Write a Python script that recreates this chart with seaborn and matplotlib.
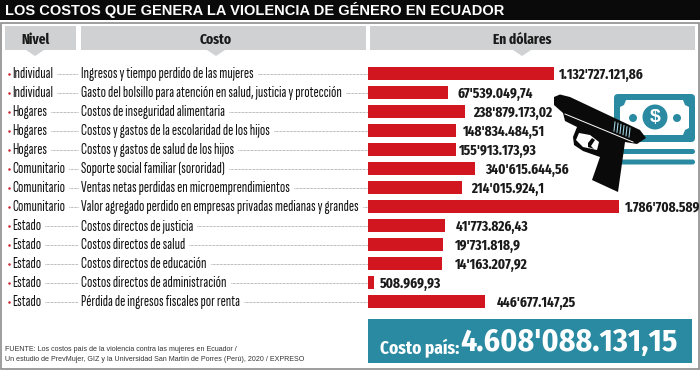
import matplotlib
matplotlib.use("Agg")
import matplotlib.pyplot as plt
from matplotlib.patches import Polygon, Rectangle, FancyBboxPatch, Circle
import pandas as pd
import seaborn as sns

niveles = ["Individual", "Individual", "Hogares", "Hogares", "Hogares", "Comunitario", "Comunitario",
           "Comunitario", "Estado", "Estado", "Estado", "Estado", "Estado"]
costos = ["Ingresos y tiempo perdido de las mujeres",
          "Gasto del bolsillo para atención en salud, justicia y protección",
          "Costos de inseguridad alimentaria",
          "Costos y gastos de la escolaridad de los hijos",
          "Costos y gastos de salud de los hijos",
          "Soporte social familiar (sororidad)",
          "Ventas netas perdidas en microemprendimientos",
          "Valor agregado perdido en empresas privadas medianas y grandes",
          "Costos directos de justicia",
          "Costos directos de salud",
          "Costos directos de educación",
          "Costos directos de administración",
          "Pérdida de ingresos fiscales por renta"]
valores = ["1.132'727.121,86", "67'539.049,74", "238'879.173,02", "148'834.484,51", "155'913.173,93",
           "340'615.644,56", "214'015.924,1", "1.786'708.589", "41'773.826,43", "19'731.818,9",
           "14'163.207,92", "508.969,93", "446'677.147,25"]
# drawn bar lengths (the original bars are not to scale)
longitud = [185.4, 79.4, 96.4, 87.4, 88, 106.7, 94, 250.7, 76.7, 74.7, 73.7, 5.7, 117]
separacion = [5.6, 10.3, 8.3, 7, 2.5, 10, 9, 6, 11, 12, 12.5, 6, 11.7]

NARROW = ["Fira Sans Extra Condensed", "DejaVu Sans"]
REG = ["Sofia Sans Extra Condensed", "Fira Sans Extra Condensed", "DejaVu Sans"]
COND = ["Fira Sans Condensed", "DejaVu Sans"]
W, H = 700, 370
fig = plt.figure(figsize=(7, 3.7), dpi=100, facecolor="white")

bg = fig.add_axes([0, 0, 1, 1])
bg.set_xlim(0, W)
bg.set_ylim(H, 0)
bg.axis("off")

bg.add_patch(Rectangle((1, 23), 698, 346, fc="white", ec="#8c8c8c", lw=1.2))
bg.add_patch(Rectangle((0, 0), W, 20, fc="#0a0a0a", ec="none"))
bg.text(5, 10.5, "LOS COSTOS QUE GENERA LA VIOLENCIA DE GÉNERO EN ECUADOR", color="white",
        family="Liberation Sans", weight="bold", fontsize=10.5, va="center", ha="left")

GREY = "#cfd1d2"
for x0, x1, tx, lab in [(5, 76, 35, "Nivel"), (81, 366, 216, "Costo"), (370, 695, 522, "En dólares")]:
    bg.add_patch(Rectangle((x0, 26), x1 - x0, 24, fc=GREY, ec="none"))
    bg.add_patch(Polygon([(tx - 9, 50), (tx + 9, 50), (tx, 56)], fc=GREY, ec="none"))
    bg.text(tx, 40, lab, family=NARROW, weight="bold", fontsize=10.5, color="#1a1a1a", ha="center", va="center")

# table text and leader lines
r = fig.canvas.get_renderer()
for i, (n, c) in enumerate(zip(niveles, costos)):
    y = 73.7 + 19 * i
    bg.plot([8.5], [y + 0.5], marker="o", ms=1.8, color="#c8202d", mec="none")
    t1 = bg.text(12.5, y, n, family=REG, fontsize=11.2, color="#111111", va="center", ha="left")
    t2 = bg.text(81, y, c, family=REG, fontsize=11.2, color="#111111", va="center", ha="left")
    e1 = t1.get_window_extent(r).x1 + 3
    e2 = t2.get_window_extent(r).x1 + 4
    bg.plot([e1, 78], [y, y], color="#777777", lw=0.5, ls=(0, (1, 1)))
    if e2 < 367:
        bg.plot([e2, 368], [y, y], color="#777777", lw=0.5, ls=(0, (1, 1)))

# bars
df = pd.DataFrame({"costo": costos, "longitud": longitud})
ax = fig.add_axes([368.3 / W, 1 - 311.2 / H, (W - 368.3) / W, 247 / H])
ax.patch.set_alpha(0)
sns.barplot(data=df, x="longitud", y="costo", orient="h", color="#d2161f", saturation=1, width=0.71, ax=ax)
ax.set_xlim(0, W - 368.3)
ax.set_ylim(12.5, -0.5)
ax.axis("off")

# money icon
TEAL = "#2a8aa2"
bg.add_patch(FancyBboxPatch((614, 94), 81, 48, boxstyle="round,pad=0,rounding_size=4", fc=TEAL, ec="none"))
bg.add_patch(Polygon([(626, 100), (683, 100), (685, 105), (689, 107), (689, 128), (685, 130), (683, 135), (626, 135),
                      (624, 130), (620, 128), (620, 107), (624, 105)], fc="white", ec="none"))
bg.add_patch(Circle((655, 117), 12.5, fc=TEAL, ec="none"))
bg.add_patch(Circle((633, 118), 4, fc=TEAL, ec="none"))
bg.add_patch(Circle((677, 118), 4, fc=TEAL, ec="none"))
bg.text(655, 117.5, "$", color="white", family="Liberation Sans", weight="bold", fontsize=14, ha="center", va="center")
for y in (151.5, 162):
    bg.add_patch(FancyBboxPatch((620, y - 2.5), 75, 5, boxstyle="round,pad=0,rounding_size=2.5", fc=TEAL, ec="none"))

# pistol icon
bg.add_patch(Polygon([(554, 97), (560, 94.5), (570, 97), (640, 130), (646, 138), (637, 144), (625, 142),
                      (618, 192), (592, 180), (600, 157), (583, 151), (574, 145), (573, 137), (577, 127),
                      (565, 121), (563, 113), (554, 105)], fc="#0a0a0a", ec="none", zorder=5))
bg.add_patch(Polygon([(579, 133), (590, 135), (599, 142), (597, 150), (583, 147), (576, 140)],
                     fc="white", ec="none", zorder=6))
bg.add_patch(Polygon([(592, 138), (595, 140), (591, 146), (594, 149), (588, 147), (588, 143)],
                     fc="#0a0a0a", ec="none", zorder=7))
bg.plot([565, 633], [114, 142], color="white", lw=0.7, zorder=7)
for k in range(6):
    bg.plot([615 + k * 3, 614 + k * 3], [122 + k * 1.2, 131 + k * 1.2], color="#9fd0dd", lw=0.8, zorder=7)

# value labels
for i, (v, l, s) in enumerate(zip(valores, longitud, separacion)):
    ax.text(l + s, i + 0.05, v, family=NARROW, weight="bold", fontsize=10.4, color="#1a1a1a",
            va="center", ha="left", zorder=4)

# total
bg.add_patch(Rectangle((368, 319), 324, 44, fc=TEAL, ec="none"))
bg.text(380, 348, "Costo país:", family=NARROW, weight="bold", fontsize=13.5, color="white", va="center", ha="left")
bg.text(460, 343, "4.608'088.131,15", family=COND, weight="bold", fontsize=22.8, color="white", va="center", ha="left")

# source
bg.text(5, 349.5, "FUENTE: Los costos país de la violencia contra las mujeres en Ecuador /",
        family="Liberation Sans", fontsize=5.1, color="#333333", va="center", ha="left")
bg.text(5, 359.5, "Un estudio de PrevMujer, GIZ y la Universidad San Martín de Porres (Perú), 2020 / EXPRESO",
        family="Liberation Sans", fontsize=5.1, color="#333333", va="center", ha="left")

fig.savefig("out.png", dpi=100, facecolor="white")
